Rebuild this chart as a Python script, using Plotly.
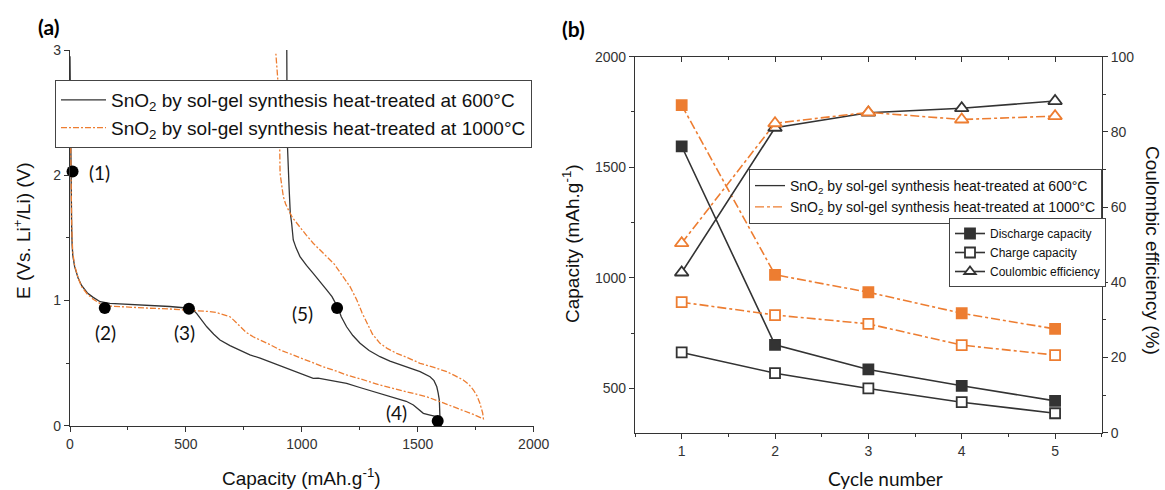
import plotly.graph_objects as go

# ---------------- Panel (a): galvanostatic curves ----------------
cap_600_dis = [0, 1, 2, 3, 5, 7, 9, 12, 20, 35, 50, 75, 100, 130, 172, 250, 345, 430, 503, 530, 546, 570, 590,
               620, 647, 690, 733, 776, 820, 870, 912, 960, 992, 1049, 1070, 1093, 1140, 1193, 1250, 1308,
               1360, 1409, 1450, 1481, 1505, 1524, 1553, 1582, 1596]
E_600_dis = [2.95, 2.6, 2.3, 2.1, 1.85, 1.6, 1.45, 1.36, 1.27, 1.18, 1.12, 1.06, 1.025, 0.99, 0.977, 0.97, 0.962,
             0.952, 0.94, 0.925, 0.897, 0.84, 0.79, 0.73, 0.684, 0.64, 0.605, 0.565, 0.54, 0.505, 0.475, 0.44,
             0.418, 0.378, 0.38, 0.372, 0.355, 0.338, 0.305, 0.272, 0.245, 0.219, 0.195, 0.165, 0.125, 0.099,
             0.085, 0.072, 0.045]
cap_600_ch = [1596, 1596, 1593, 1588, 1582, 1570, 1553, 1510, 1470, 1423, 1380, 1337, 1290, 1251, 1220, 1193,
              1170, 1157, 1130, 1107, 1080, 1049, 1020, 992, 975, 963, 956, 950, 945, 940, 937, 936, 935]
E_600_ch = [0.045, 0.12, 0.205, 0.26, 0.311, 0.36, 0.391, 0.431, 0.455, 0.485, 0.515, 0.551, 0.6, 0.658, 0.72,
            0.79, 0.87, 0.937, 1.03, 1.084, 1.15, 1.217, 1.28, 1.35, 1.42, 1.483, 1.617, 1.70, 1.9, 2.1, 2.28,
            2.6, 3.0]

cap_1000_dis = [0, 1, 3, 5, 7, 9, 12, 20, 35, 50, 75, 100, 130, 172, 250, 345, 430, 503, 560, 600, 633, 660,
                690, 705, 730, 760, 790, 820, 860, 906, 960, 1000, 1049, 1100, 1150, 1193, 1250, 1290, 1337,
                1400, 1481, 1540, 1596, 1650, 1696, 1740, 1776, 1783]
E_1000_dis = [2.7, 2.45, 2.15, 1.9, 1.65, 1.5, 1.38, 1.28, 1.18, 1.11, 1.05, 1.01, 0.975, 0.955, 0.945, 0.938,
              0.932, 0.925, 0.918, 0.912, 0.903, 0.89, 0.87, 0.845, 0.8, 0.745, 0.71, 0.685, 0.65, 0.605, 0.565,
              0.54, 0.498, 0.465, 0.435, 0.405, 0.375, 0.35, 0.325, 0.295, 0.259, 0.23, 0.192, 0.155, 0.125,
              0.09, 0.059, 0.055]
cap_1000_ch = [1783, 1780, 1768, 1755, 1740, 1720, 1696, 1660, 1625, 1570, 1510, 1460, 1409, 1370, 1337, 1305,
               1280, 1260, 1237, 1208, 1185, 1165, 1140, 1107, 1080, 1049, 1020, 992, 960, 942, 930, 920, 912,
               906, 904, 898, 896, 888]
E_1000_ch = [0.055, 0.1, 0.179, 0.24, 0.285, 0.33, 0.365, 0.4, 0.431, 0.465, 0.498, 0.54, 0.578, 0.615, 0.658,
             0.73, 0.818, 0.9, 1.004, 1.11, 1.17, 1.22, 1.29, 1.35, 1.40, 1.457, 1.52, 1.59, 1.66, 1.723, 1.77,
             1.83, 1.92, 2.016, 2.29, 2.6, 2.77, 2.97]

point_labels = ["(1)", "(2)", "(3)", "(4)", "(5)", "(6)"]
point_cap = [11, 150, 513, 1586, 1152, 927]
point_E = [2.03, 0.94, 0.933, 0.037, 0.94, 3.01]

# ---------------- Panel (b): cycling ----------------
cycles = [1, 2, 3, 4, 5]
dis_600 = [1595, 697, 586, 512, 444]
ch_600 = [663, 569, 500, 438, 388]
ce_600 = [42.6, 81.1, 85.1, 86.3, 88.2]
dis_1000 = [1781, 1014, 935, 840, 769]
ch_1000 = [890, 832, 792, 696, 651]
ce_1000 = [50.4, 82.3, 85.2, 83.3, 84.2]

name_600 = "SnO<sub>2</sub> by sol-gel synthesis heat-treated at 600°C"
name_1000 = "SnO<sub>2</sub> by sol-gel synthesis heat-treated at 1000°C"
legend3_names = ["Discharge capacity", "Charge capacity", "Coulombic efficiency"]

# ---------------- styles ----------------
BLACK = "#333333"
ORANGE = "#ED7D31"
ARIAL = "Liberation Sans, Arial, sans-serif"
CAL = "Lato, Carlito, Calibri, sans-serif"
W, H = 1165, 490


def fx(px):
    return px / W


def fy(py):
    return 1 - py / H


fig = go.Figure()

# Panel (a) curves
fig.add_trace(go.Scatter(x=cap_600_dis + cap_600_ch, y=E_600_dis + E_600_ch, mode="lines",
                         line=dict(color=BLACK, width=1.3), name=name_600, legend="legend",
                         xaxis="x", yaxis="y"))
fig.add_trace(go.Scatter(x=cap_1000_dis + cap_1000_ch, y=E_1000_dis + E_1000_ch, mode="lines",
                         line=dict(color=ORANGE, width=1.3, dash="6px,2px,2px,2px"), name=name_1000,
                         legend="legend", xaxis="x", yaxis="y"))
fig.add_trace(go.Scatter(x=point_cap, y=point_E, mode="markers", cliponaxis=False,
                         marker=dict(color="black", size=12), showlegend=False, xaxis="x", yaxis="y"))

# label offsets (px) relative to their points
label_shift = [(27, -1), (1, -25), (-4, -24), (-41, 9), (-35, -6), (29, -1)]
for t, xv, yv, (dx, dy) in zip(point_labels, point_cap, point_E, label_shift):
    fig.add_annotation(x=xv, y=yv, xref="x", yref="y", text=t, showarrow=False, xshift=dx, yshift=dy,
                       xanchor="center", yanchor="middle",
                       font=dict(family=CAL, size=19, color="#111"))

# Panel (b) traces
series = [
    (dis_600, "y2", BLACK, "solid", "square", BLACK),
    (ch_600, "y2", BLACK, "solid", "square", "white"),
    (ce_600, "y3", BLACK, "solid", "triangle-up", "white"),
    (dis_1000, "y2", ORANGE, "dashdot", "square", ORANGE),
    (ch_1000, "y2", ORANGE, "dashdot", "square", "white"),
    (ce_1000, "y3", ORANGE, "dashdot", "triangle-up", "white"),
]
for vals, yax, col, dash, sym, fill in series:
    fig.add_trace(go.Scatter(x=cycles, y=vals, mode="lines+markers", xaxis="x2", yaxis=yax,
                             line=dict(color=col, width=1.6, dash=dash),
                             marker=dict(symbol=sym, size=12 if sym == "triangle-up" else 10, color=fill,
                                         line=dict(color=col, width=1.8)),
                             cliponaxis=False, showlegend=False))

# dummy trace for top mirrored axis
fig.add_trace(go.Scatter(x=[3], y=[1000], xaxis="x3", yaxis="y2", mode="markers",
                         marker=dict(opacity=0), showlegend=False, hoverinfo="skip"))

# legend2 entries
fig.add_trace(go.Scatter(x=[None], y=[None], mode="lines", line=dict(color=BLACK, width=1.3),
                         name=name_600, legend="legend2", xaxis="x2", yaxis="y2"))
fig.add_trace(go.Scatter(x=[None], y=[None], mode="lines", line=dict(color=ORANGE, width=1.3, dash="dashdot"),
                         name=name_1000, legend="legend2", xaxis="x2", yaxis="y2"))
# legend3 entries
for nm, sym, fill in zip(legend3_names, ["square", "square", "triangle-up"], [BLACK, "white", "white"]):
    fig.add_trace(go.Scatter(x=[None], y=[None], mode="lines+markers", name=nm, legend="legend3",
                             xaxis="x2", yaxis="y2", line=dict(color=BLACK, width=1.6),
                             marker=dict(symbol=sym, size=10, color=fill, line=dict(color=BLACK, width=1.8))))

tickfont = dict(family=ARIAL, size=14, color="#333")
common = dict(showgrid=False, zeroline=False, showline=True, linecolor=BLACK, linewidth=1.3,
              ticks="outside", ticklen=5, tickwidth=1.3, tickcolor=BLACK, tickfont=tickfont)


def minor(dt, side="outside"):
    return dict(ticks=side, ticklen=3, tickwidth=1.2, tickcolor=BLACK, dtick=dt, tick0=0, showgrid=False)


fig.update_layout(
    width=W, height=H, margin=dict(l=0, r=0, t=0, b=0, autoexpand=False),
    plot_bgcolor="white", paper_bgcolor="white",
    xaxis=dict(domain=[fx(70), fx(533.7)], anchor="y", range=[0, 2000], tick0=0, dtick=500,
               minor=minor(250), **common),
    yaxis=dict(domain=[fy(425.7), fy(50)], anchor="x", range=[0, 3], tick0=0, dtick=1,
               minor=minor(0.5), **common),
    xaxis2=dict(domain=[fx(635), fx(1101.75)], anchor="y2", range=[0.5, 5.5], tick0=1, dtick=1, mirror=True,
                minor=minor(0.5), **common),
    xaxis3=dict(overlaying="x2", anchor="y2", side="top", range=[0.5, 5.5], tick0=1, dtick=1,
                showticklabels=False, showgrid=False, zeroline=False, showline=False,
                ticks="inside", ticklen=5, tickwidth=1.3, tickcolor=BLACK, minor=minor(0.5, "inside")),
    yaxis2=dict(domain=[fy(432.7), fy(56.7)], anchor="x2", range=[300, 2000], tick0=0, dtick=500,
                minor=minor(250), **common),
    yaxis3=dict(overlaying="y2", anchor="x2", side="right", range=[0, 100], tick0=0, dtick=20,
                minor=minor(10), **common),
    legend=dict(x=fx(55), y=fy(80), xanchor="left", yanchor="top", bgcolor="white", bordercolor="#444",
                borderwidth=1, font=dict(family=ARIAL, size=19, color="#111"), itemwidth=45,
                tracegroupgap=0),
    legend2=dict(x=fx(749), y=fy(169), xanchor="left", yanchor="top", bgcolor="white", bordercolor="#444",
                 borderwidth=1, font=dict(family=ARIAL, size=14, color="#111"), itemwidth=30),
    legend3=dict(x=fx(949), y=fy(218), xanchor="left", yanchor="top", bgcolor="white", bordercolor="#444",
                 borderwidth=1, font=dict(family=ARIAL, size=12, color="#111"), itemwidth=30),
)

# axis titles and panel labels (centre anchored)
title_font = dict(family=ARIAL, size=19, color="#111")
paper_texts = [
    (301, 477, "Capacity (mAh.g<sup>-1</sup>)", 0, title_font),
    (22, 231, "E (Vs. Li<sup>+</sup>/Li) (V)", -90, title_font),
    (571, 244, "Capacity (mAh.g<sup>-1</sup>)", -90, title_font),
    (1153, 250, "Coulombic efficiency (%)", 90, title_font),
    (885, 478, "Cycle number", 0, dict(family=CAL, size=19, color="#111")),
    (48, 27, "<b>(a)</b>", 0, dict(family=CAL, size=21, color="#000")),
    (573, 28, "<b>(b)</b>", 0, dict(family=CAL, size=21, color="#000")),
]
for px, py, txt, ang, fnt in paper_texts:
    fig.add_annotation(x=fx(px), y=fy(py), xref="paper", yref="paper", text=txt, showarrow=False,
                       xanchor="center", yanchor="middle", textangle=ang, font=fnt)

fig.write_html("out.html", config={"displayModeBar": False},
               post_script="document.body.style.margin='0px';document.body.style.overflow='hidden';")
